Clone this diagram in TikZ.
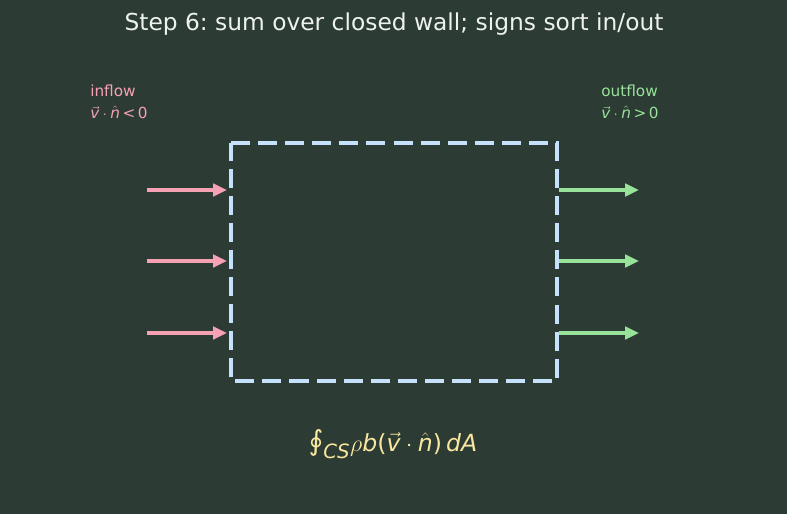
\documentclass[tikz,border=0pt]{standalone}
\usepackage{fontspec}
\setmainfont{DejaVu Sans}
\usepackage[italic]{mathastext}
\usetikzlibrary{arrows.meta}
\frenchspacing

\definecolor{bgcol}{HTML}{2C3B34}
\definecolor{wallcol}{HTML}{C5E1FB}
\definecolor{incol}{HTML}{F6A1B4}
\definecolor{outcol}{HTML}{98E29A}
\definecolor{titlecol}{HTML}{EEF2EE}
\definecolor{eqcol}{HTML}{F8E79E}

\begin{document}
\begin{tikzpicture}[
    x=0.72pt, y=-0.72pt,
    >={Triangle[length=10pt, width=9pt]},
    flux arrow/.style={->, line width=2.2pt},
    side label/.style={font=\fontsize{11}{13}\selectfont, align=left, anchor=west, inner sep=0pt},
]

% Canvas
\fill[bgcol] (0,0) rectangle (787,514);
\useasboundingbox (0,0) rectangle (787,514);

% Title
\node[titlecol, font=\fontsize{16.8}{20}\selectfont] (title) at (394,24) {Step 6: sum over closed wall; signs sort in/out};

% Control surface (closed wall)
\draw[wallcol, line width=2.9pt, dash pattern=on 13.7pt off 5.8pt] (231,143) -- (557,143) -- (557,381) -- (231,381) -- cycle;
\coordinate (wallL) at (231,262);
\coordinate (wallR) at (557,262);

% Flux arrows
\foreach \y [count=\i] in {190,261,333} {
    \coordinate (inS\i) at (147,\y);
    \coordinate (inE\i) at (227,\y);
    \coordinate (outS\i) at (559,\y);
    \coordinate (outE\i) at (639,\y);
    \draw[flux arrow, incol] (inS\i) -- (inE\i);
    \draw[flux arrow, outcol] (outS\i) -- (outE\i);
}

% Side labels
\node[side label, incol] (inlabel) at (90,102) {inflow\\[3pt]$\vec{v}\cdot\hat{n}$\,<\,0};
\node[side label, outcol] (outlabel) at (601,102) {outflow\\[3pt]$\vec{v}\cdot\hat{n}$\,>\,0};

% Surface integral
\node[eqcol, font=\fontsize{17}{20}\selectfont] (flux) at (393,444) {\raisebox{1pt}{\fontsize{20}{22}\selectfont ∮}$_{CS}\rho b\mbox{(}\vec{v}\cdot\hat{n}\mbox{)}\,dA$};

\end{tikzpicture}
\end{document}
